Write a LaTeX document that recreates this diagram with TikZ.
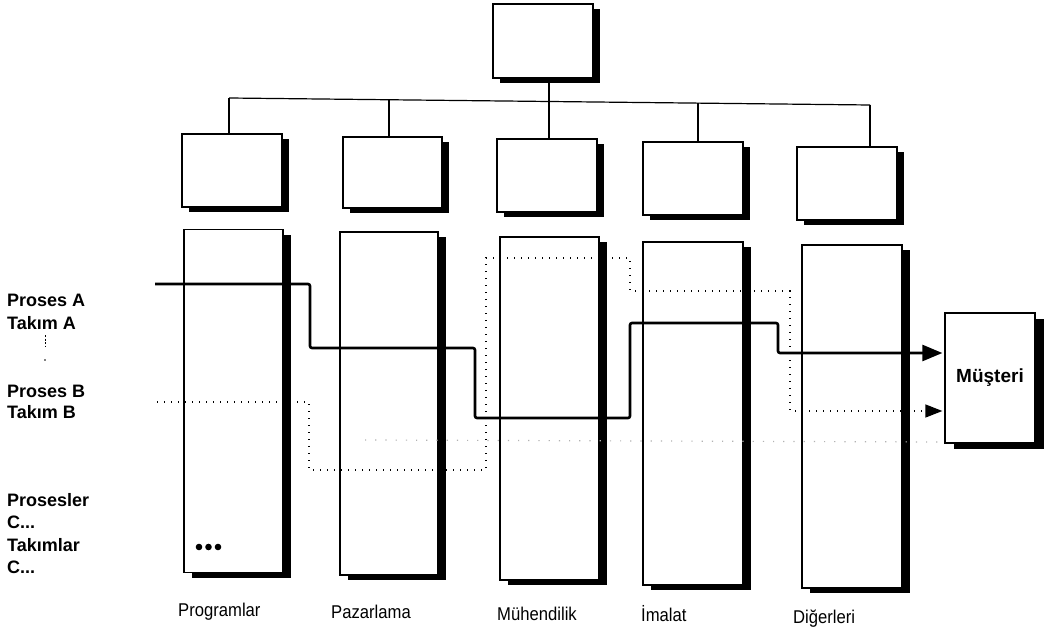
\documentclass[tikz,border=0pt]{standalone}
\usepackage{fontspec}
\setmainfont{Liberation Sans}
\newfontfamily\narrowsans[FakeStretch=0.9]{Liberation Sans}
\usetikzlibrary{shadows,arrows.meta}

\begin{document}
\begin{tikzpicture}[x=1pt,y=-1pt,
  unitbox/.style={draw=black, line width=1.3pt, fill=white, inner sep=0pt,
    minimum width=100pt, minimum height=73pt,
    drop shadow={shadow xshift=7pt, shadow yshift=-5pt, fill=black, opacity=1}},
  colbox/.style={draw=black, line width=1.3pt, fill=white, inner sep=0pt,
    minimum width=99pt, minimum height=343pt,
    drop shadow={shadow xshift=8pt, shadow yshift=-5pt, fill=black, opacity=1}},
  custbox/.style={draw=black, line width=1.3pt, fill=white, inner sep=0pt,
    minimum width=90pt, minimum height=130pt,
    font=\fontsize{19}{22}\selectfont\bfseries,
    drop shadow={shadow xshift=9pt, shadow yshift=-6pt, fill=black, opacity=1}},
  link/.style={line width=1.2pt},
  flow/.style={line width=2.6pt, rounded corners=2pt,
    -{Triangle[length=20pt,width=16pt]}, shorten >=2pt},
  altflow/.style={line width=1.4pt, dash pattern=on 1.4pt off 5.6pt,
    -{Triangle[length=17pt,width=13pt]}, shorten >=2pt},
  faintflow/.style={line width=1.2pt, draw=black!30, dash pattern=on 1.2pt off 9pt},
  sidelabel/.style={anchor=west, inner sep=0pt, font=\fontsize{18}{22}\selectfont\bfseries},
  footlabel/.style={anchor=west, inner sep=0pt, font=\narrowsans\fontsize{18.5}{21}\selectfont},
]
\useasboundingbox (0,0) rectangle (1046,639);

% management box and department boxes
\node[unitbox, minimum height=74pt] (top) at (543,41) {};
\node[unitbox] (u1) at (232,170.5) {};
\node[unitbox, minimum width=99pt, minimum height=71pt] (u2) at (392.5,172.5) {};
\node[unitbox] (u3) at (547,175.5) {};
\node[unitbox] (u4) at (693,178.5) {};
\node[unitbox] (u5) at (847,183.5) {};

% reporting lines
\coordinate (b1) at (229,98);
\coordinate (b2) at (389,99.7);
\coordinate (b3) at (549,101.5);
\coordinate (b4) at (698,103.1);
\coordinate (b5) at (870,105);
\draw[link] (b1) -- (b5);
\draw[link] ([xshift=6pt]top.south) -- (b3);
\draw[link] (b1) -- (b1 |- u1.north);
\draw[link] (b2) -- (b2 |- u2.north);
\draw[link] (b3) -- (b3 |- u3.north);
\draw[link] (b4) -- (b4 |- u4.north);
\draw[link] (b5) -- (b5 |- u5.north);

% functional columns
\node[colbox] (c1) at (233.5,401) {};
\node[colbox, minimum width=98pt] (c2) at (389,403.5) {};
\node[colbox] (c3) at (549.5,408.5) {};
\node[colbox, minimum width=100pt] (c4) at (693,413.5) {};
\node[colbox, minimum width=100pt] (c5) at (852,416.5) {};

% customer
\node[custbox] (mu) at (990,378) {Müşteri};

% further processes
\fill (199,547) circle (3.3pt) (208.5,547) circle (3.3pt) (218,547) circle (3.3pt);
\draw[faintflow] (365,440) -- (940,442);

% process B
\coordinate (bStart) at (157,402);
\draw[altflow] (bStart) -- (309,402) -- (309,470) -- (486,470) -- (486,258)
  -- (630,258) -- (630,291) -- (790,291) -- (790,411) -- ([yshift=-33pt]mu.west);

% process A
\coordinate (aStart) at (155,284);
\draw[flow] (aStart) -| (310,348) -| (475,418) -| (630,323) -| (778,353)
  -- ([yshift=25pt]mu.west);

% row labels
\node[sidelabel] (pa) at (7,300) {Proses A};
\node[sidelabel] (ta) at (7,323) {Takım A};
\draw[line width=1pt, dash pattern=on 2pt off 1.5pt] (45,335) -- (45,347);
\fill (45,360) circle (0.8pt);
\node[sidelabel] (pb) at (7,391) {Proses B};
\node[sidelabel] (tb) at (7,412) {Takım B};
\node[sidelabel] (pc) at (7,500) {Prosesler};
\node[sidelabel] (pcc) at (7,522) {C...};
\node[sidelabel] (tc) at (7,545) {Takımlar};
\node[sidelabel] (tcc) at (7,567) {C...};

% column labels
\node[footlabel] (l1) at (178,612) {Programlar};
\node[footlabel] (l2) at (331,612) {Pazarlama};
\node[footlabel] (l3) at (497,614) {Mühendilik};
\node[footlabel] (l4) at (641,614) {İmalat};
\node[footlabel] (l5) at (793,619) {Diğerleri};
\end{tikzpicture}
\end{document}
